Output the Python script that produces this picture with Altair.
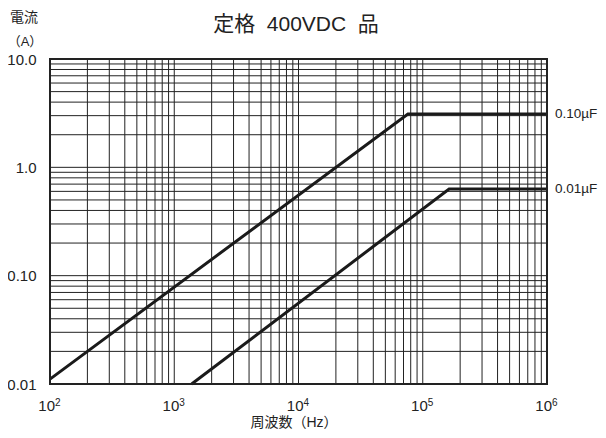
import altair as alt
import pandas as pd

# Data
c010_freq = [100, 76000, 1000000]
c010_curr = [0.0111, 3.1, 3.1]
c001_freq = [1380, 163000, 1000000]
c001_curr = [0.01, 0.63, 0.63]
series_labels = ["0.10µF", "0.01µF"]

x_ticks = [100, 1000, 10000, 100000, 1000000]
x_tick_base = ["10", "10", "10", "10", "10"]
x_tick_exp = ["2", "3", "4", "5", "6"]
y_ticks = [0.01, 0.1, 1, 10]
y_tick_labels = ["0.01", "0.10", "1.0", "10.0"]

NB = "\u00a0"
title_text = f"定格{NB}{NB}400VDC{NB}{NB}品"
x_title = "周波数（Hz）"
y_title = ["電流", "（A）"]

FONT = "Liberation Sans, Noto Sans CJK JP"

W, H = 497, 325

lines_df = pd.DataFrame(
    [{"f": f, "i": i, "s": series_labels[0]} for f, i in zip(c010_freq, c010_curr)]
    + [{"f": f, "i": i, "s": series_labels[1]} for f, i in zip(c001_freq, c001_curr)]
)

xgrid = [m * 10 ** e for e in range(2, 6) for m in range(1, 10)] + [1000000]
ygrid = [m * 10 ** e for e in range(-2, 1) for m in range(1, 10)] + [10]
xg_df = pd.DataFrame({"f": xgrid})
yg_df = pd.DataFrame({"i": ygrid})

xscale = alt.Scale(type="log", domain=[100, 1000000], nice=False)
yscale = alt.Scale(type="log", domain=[0.01, 10], nice=False)

ylabel_expr = "datum.value < 0.05 ? '0.01' : datum.value < 0.5 ? '0.10' : datum.value < 5 ? '1.0' : '10.0'"

vgrid = alt.Chart(xg_df).mark_rule(color="#222222", strokeWidth=1).encode(
    x=alt.X("f:Q", scale=xscale, axis=None),
)
hgrid = alt.Chart(yg_df).mark_rule(color="#222222", strokeWidth=1).encode(
    y=alt.Y("i:Q", scale=yscale,
            axis=alt.Axis(values=y_ticks, labelExpr=ylabel_expr, grid=False, ticks=False,
                          domain=False, labelFont=FONT, labelFontSize=15, labelColor="#222",
                          labelPadding=14, title=None)),
)

curves = alt.Chart(lines_df).mark_line(color="#1a1a1a", strokeWidth=3).encode(
    x=alt.X("f:Q", scale=xscale),
    y=alt.Y("i:Q", scale=yscale),
    detail="s:N",
)

lab_df = pd.DataFrame({"f": [1000000, 1000000], "i": [c010_curr[-1], c001_curr[-1]], "t": series_labels})
labels = alt.Chart(lab_df).mark_text(align="left", baseline="middle", dx=8, font=FONT,
                                     fontSize=13.5, color="#222").encode(
    x=alt.X("f:Q", scale=xscale), y=alt.Y("i:Q", scale=yscale), text="t:N"
)

xt_df = pd.DataFrame({"f": x_ticks, "b": x_tick_base, "e": x_tick_exp})
xbase = alt.Chart(xt_df).mark_text(align="right", baseline="middle", dx=5, font=FONT,
                                   fontSize=15, color="#222").encode(
    x=alt.X("f:Q", scale=xscale), y=alt.value(347), text="b:N")
xexp = alt.Chart(xt_df).mark_text(align="left", baseline="middle", dx=5, font=FONT,
                                  fontSize=10, color="#222").encode(
    x=alt.X("f:Q", scale=xscale), y=alt.value(344), text="e:N")

def txt(t, x, y, size):
    return alt.Chart(pd.DataFrame({"t": [t]})).mark_text(
        font=FONT, fontSize=size, color="#222", align="center", baseline="middle").encode(
        x=alt.value(x), y=alt.value(y), text="t:N")

ytitle1 = txt(y_title[0], -26, -41, 14)
ytitle2 = txt(y_title[1], -25, -17, 13)
xtitle = txt(x_title, 244, 364, 14)
title = txt(title_text, 246, -34, 21)

border = alt.Chart(pd.DataFrame({"a": [0]})).mark_rect(
    fill=None, stroke="#222", strokeWidth=2).encode(
    x=alt.value(0), x2=alt.value(W), y=alt.value(0), y2=alt.value(H))

chart = alt.layer(vgrid, hgrid, curves, labels, xbase, xexp, ytitle1, ytitle2, xtitle, title,
                  border).properties(
    width=W, height=H,
    autosize=alt.AutoSizeParams(type="none"),
    padding={"left": 42, "top": 51, "right": 51, "bottom": 46},
).configure_view(stroke=None)

chart.save("out.html", embed_options={"renderer": "svg", "actions": False})
